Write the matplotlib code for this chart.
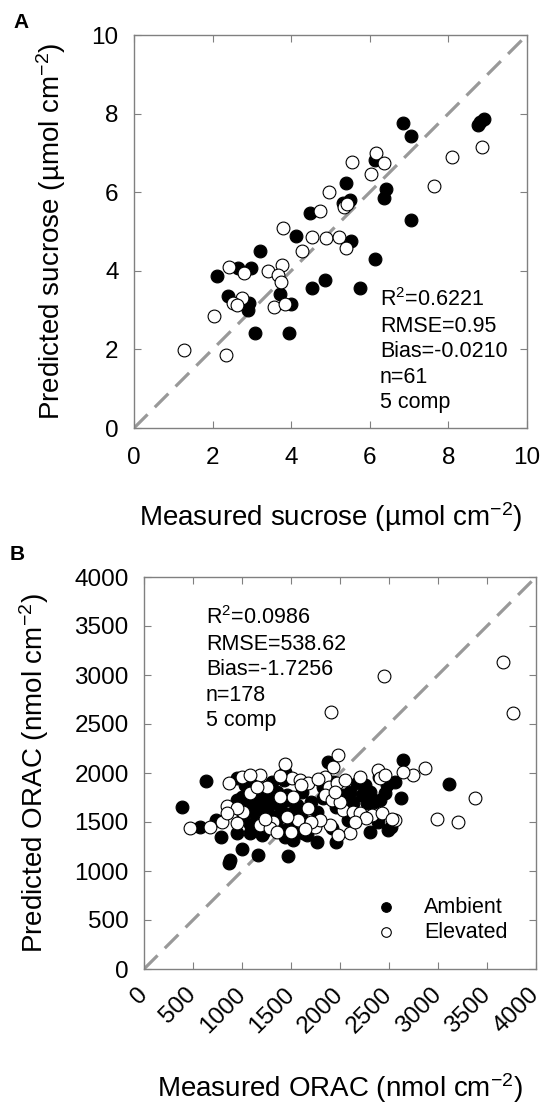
import numpy as np
import matplotlib
matplotlib.use('Agg')
import matplotlib.pyplot as plt

plt.rcParams['font.family'] = ['Liberation Sans', 'DejaVu Sans']
plt.rcParams['mathtext.fontset'] = 'custom'
plt.rcParams['mathtext.rm'] = 'Liberation Sans'
plt.rcParams['mathtext.it'] = 'Liberation Sans:italic'

# ---- panel A: sucrose (umol cm-2) ----
amb_a_x = [6.85, 7.05, 8.75, 8.80, 8.90, 6.12, 6.41, 6.37, 5.39, 5.50, 5.33, 4.49,
           7.05, 4.11, 5.51, 6.13, 3.21, 2.65, 2.97, 2.10, 4.87, 4.52, 5.75, 2.38,
           3.71, 2.93, 2.91, 3.99, 3.08, 3.95]
amb_a_y = [7.75, 7.43, 7.72, 7.78, 7.87, 6.82, 6.07, 5.86, 6.23, 5.80, 5.72, 5.48,
           5.28, 4.89, 4.77, 4.29, 4.51, 4.06, 4.06, 3.88, 3.77, 3.55, 3.57, 3.37,
           3.41, 3.17, 2.99, 3.16, 2.41, 2.41]
elv_a_x = [1.27, 2.33, 2.03, 2.41, 2.80, 2.74, 2.53, 2.63, 3.42, 3.76, 3.66, 3.73,
           3.56, 3.84, 3.80, 4.27, 4.53, 4.88, 5.22, 5.39, 4.73, 4.97, 5.35, 5.42,
           5.54, 6.02, 6.15, 6.37, 7.64, 8.09, 8.85]
elv_a_y = [1.98, 1.85, 2.85, 4.09, 3.94, 3.32, 3.17, 3.12, 4.00, 4.16, 3.89, 3.71,
           3.09, 3.16, 5.08, 4.51, 4.87, 4.83, 4.87, 4.57, 5.51, 6.00, 5.62, 5.70,
           6.76, 6.46, 7.01, 6.75, 6.15, 6.90, 7.14]
stats_a = ['R$^2$=0.6221', 'RMSE=0.95', 'Bias=-0.0210', 'n=61', '5 comp']

# ---- panel B: ORAC (nmol cm-2) ----
amb_b_x = [384, 629, 571, 735, 786, 867, 877, 996, 1167, 1473, 945, 946, 996, 1098,
           1064, 1150, 1303, 1354, 1439, 1428, 1456, 1252, 1184, 1320, 1082, 1013,
           1133, 1218, 1371, 1507, 1558, 1616, 1762, 1824, 1881, 1932, 2034, 2102,
           2170, 2221, 2306, 2401, 2459, 2561, 2639, 2620, 2408, 2272, 2136, 2000,
           1830, 946, 1082, 1218, 1422, 1541, 1660, 1915, 2085, 2306, 2391, 2493,
           2517, 3110, 1762, 1956, 1201, 1439, 1524, 1626, 1047, 1115, 1200, 1280,
           1250, 1380, 1300, 1150, 1080, 1400, 1480, 1030, 1270, 1340, 1190, 1260,
           1120, 1330, 1500, 1600, 1700, 1880, 1960, 2250, 2480, 2350]
amb_b_y = [1650, 1920, 1452, 1525, 1343, 1078, 1112, 1221, 1160, 1155, 1950, 1724,
           1758, 1877, 1799, 1792, 1911, 1809, 2013, 1928, 1775, 1656, 1690, 1690,
           1656, 1571, 1588, 1605, 1537, 1588, 1673, 1809, 1605, 1860, 2110, 1911,
           1775, 1809, 1894, 1775, 1809, 1962, 1792, 1911, 2132, 1740, 1724, 1690,
           1690, 1758, 1741, 1384, 1384, 1384, 1418, 1384, 1367, 1435, 1520, 1401,
           1503, 1418, 1450, 1890, 1292, 1299, 1367, 1350, 1316, 1384, 1700, 1720,
           1750, 1720, 1860, 1680, 1560, 1520, 1480, 1620, 1720, 1880, 1800, 1750,
           1640, 1560, 1450, 1440, 1480, 1560, 1700, 1800, 1650, 1880, 1880, 1700]
elv_b_x = [2452, 3666, 3761, 1908, 3377, 2986, 3200, 2867, 2748, 2646, 1976, 1439,
           1184, 871, 469, 673, 2561, 2102, 850, 1252, 1507, 1592, 1677, 1847, 1891,
           1966, 1847, 1915, 2034, 2136, 2204, 2323, 2425, 2204, 2391, 1677, 1524,
           1388, 1575, 1320, 1184, 1013, 946, 792, 1745, 1983, 1456, 1932, 1898,
           1286, 1354, 1796, 945, 843, 1082, 2408, 2460, 2530, 1000, 1080, 1600,
           1700, 2050, 2270, 1390, 1150, 1230, 1500, 1640, 2000, 2150, 1780, 1950]
elv_b_y = [2993, 3136, 2615, 2626, 1748, 1527, 1503, 2054, 1979, 2013, 2183, 2090,
           1979, 1900, 1435, 1452, 1520, 1385, 1663, 1860, 1945, 1928, 1894, 1962,
           1860, 1894, 1775, 1724, 1622, 1605, 1588, 1571, 1588, 1962, 2030, 1639,
           1758, 1758, 1520, 1503, 1469, 1605, 1486, 1503, 1452, 1367, 1554, 2064,
           1469, 1435, 1401, 1520, 1639, 1588, 1793, 1945, 1980, 1530, 1960, 1980,
           1880, 1500, 1930, 1540, 1970, 1860, 1530, 1400, 1430, 1700, 1500, 1940,
           1810]
stats_b = ['R$^2$=0.0986', 'RMSE=538.62', 'Bias=-1.7256', 'n=178', '5 comp']

spine_col = '#808080'
line_col = '#999999'
tick_fs = 17.5
lab_fs = 20
txt_fs = 15.5
ms = 85

fig = plt.figure(figsize=(5.44, 11.10), dpi=100)
ax1 = fig.add_axes([134 / 544, 1 - 428 / 1110, 393 / 544, 393 / 1110])
ax2 = fig.add_axes([144 / 544, 1 - 969 / 1110, 392 / 544, 392 / 1110])


def style(ax, lim, step, xpad):
    ax.plot([0, lim], [0, lim], color=line_col, lw=2.3, dashes=(6, 3.2), zorder=1)
    ax.set_xlim(0, lim)
    ax.set_ylim(0, lim)
    ax.set_xticks(np.arange(0, lim + 1, step))
    ax.set_yticks(np.arange(0, lim + 1, step))
    for s in ax.spines.values():
        s.set_color(spine_col)
        s.set_linewidth(1.0)
    ax.tick_params(direction='in', top=True, right=True, length=5, width=0.8,
                   color=spine_col, labelsize=tick_fs)
    ax.tick_params(axis='y', pad=11)
    ax.tick_params(axis='x', pad=xpad)


style(ax1, 10, 2, 14)
ax1.scatter(amb_a_x, amb_a_y, s=ms, c='black', edgecolors='black', linewidths=0.8, zorder=3)
ax1.scatter(elv_a_x, elv_a_y, s=ms, c='white', edgecolors='black', linewidths=0.8, zorder=3)
ax1.text(6.26, 3.55, '\n'.join(stats_a), fontsize=txt_fs, va='top', ha='left',
         linespacing=1.28)
ax1.set_xlabel('Measured sucrose (µmol cm$^{-2}$)', fontsize=lab_fs, labelpad=22)
ax1.set_ylabel('Predicted sucrose (µmol cm$^{-2}$)', fontsize=lab_fs, labelpad=17)

style(ax2, 4000, 500, 16)
ax2.set_xticklabels([str(v) for v in range(0, 4001, 500)], rotation=45, ha='right',
                    va='center', rotation_mode='anchor')
ax2.scatter(amb_b_x, amb_b_y, s=ms, c='black', edgecolors='black', linewidths=0.8,
            zorder=3, label='Ambient')
ax2.scatter(elv_b_x, elv_b_y, s=ms, c='white', edgecolors='black', linewidths=0.8,
            zorder=3, label='Elevated')
ax2.text(633, 3700, '\n'.join(stats_b), fontsize=txt_fs, va='top', ha='left',
         linespacing=1.28)
ax2.set_xlabel('Measured ORAC (nmol cm$^{-2}$)', fontsize=lab_fs, labelpad=24)
ax2.set_ylabel('Predicted ORAC (nmol cm$^{-2}$)', fontsize=lab_fs, labelpad=17)
ax2.legend(loc='lower left', bbox_to_anchor=(0.589, 0.066), frameon=False,
           fontsize=txt_fs, markerscale=0.75, handlelength=1.0, handletextpad=1.28,
           borderpad=0, borderaxespad=0, labelspacing=0.2)

fig.text(13 / 544, 1 - 13 / 1110, 'A', fontsize=15, fontweight='bold', va='top')
fig.text(10 / 544, 1 - 545 / 1110, 'B', fontsize=15, fontweight='bold', va='top')

fig.savefig('out.png', dpi=100)
